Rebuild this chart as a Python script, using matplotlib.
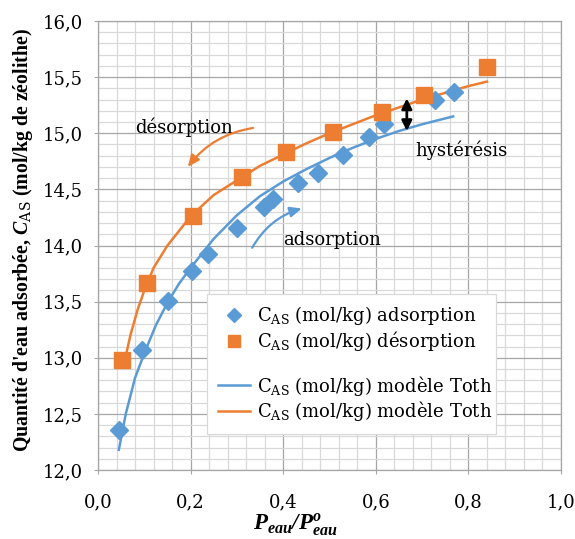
import matplotlib
matplotlib.use("Agg")
import matplotlib.pyplot as plt
from matplotlib.lines import Line2D
from matplotlib.ticker import MultipleLocator, FixedLocator

# ---------------- data ----------------
ads_x = [0.045, 0.095, 0.151, 0.203, 0.238, 0.300, 0.359, 0.378, 0.432, 0.475, 0.529, 0.585, 0.618, 0.728, 0.769]
ads_y = [12.36, 13.07, 13.51, 13.77, 13.92, 14.16, 14.34, 14.41, 14.56, 14.65, 14.81, 14.97, 15.08, 15.30, 15.37]

des_x = [0.052, 0.106, 0.205, 0.311, 0.406, 0.508, 0.613, 0.704, 0.840]
des_y = [12.98, 13.67, 14.26, 14.61, 14.83, 15.01, 15.19, 15.34, 15.59]

toth_ads_x = [0.045, 0.06, 0.08, 0.10, 0.125, 0.15, 0.175, 0.20, 0.25, 0.30, 0.35, 0.40, 0.45,
              0.50, 0.55, 0.60, 0.65, 0.70, 0.767]
toth_ads_y = [12.18, 12.50, 12.82, 13.04, 13.29, 13.49, 13.66, 13.80, 14.06, 14.27, 14.44, 14.57,
              14.68, 14.78, 14.87, 14.95, 15.02, 15.08, 15.15]

toth_des_x = [0.058, 0.07, 0.085, 0.10, 0.12, 0.15, 0.177, 0.20, 0.25, 0.30, 0.35, 0.40, 0.45,
              0.50, 0.55, 0.60, 0.65, 0.70, 0.75, 0.80, 0.84]
toth_des_y = [12.98, 13.20, 13.42, 13.60, 13.80, 14.00, 14.14, 14.26, 14.45, 14.58, 14.71, 14.81,
              14.91, 15.00, 15.08, 15.16, 15.23, 15.30, 15.36, 15.42, 15.46]

xtick_vals = [0.0, 0.2, 0.4, 0.6, 0.8, 1.0]
xtick_labels = ['0,0', '0,2', '0,4', '0,6', '0,8', '1,0']
ytick_vals = [12.0, 12.5, 13.0, 13.5, 14.0, 14.5, 15.0, 15.5, 16.0]
ytick_labels = ['12,0', '12,5', '13,0', '13,5', '14,0', '14,5', '15,0', '15,5', '16,0']

legend_labels = [r'C$_{\mathrm{AS}}$ (mol/kg) adsorption',
                 r'C$_{\mathrm{AS}}$ (mol/kg) désorption',
                 ' ',
                 r'C$_{\mathrm{AS}}$ (mol/kg) modèle Toth',
                 r'C$_{\mathrm{AS}}$ (mol/kg) modèle Toth']

# ---------------- style ----------------
BLUE = '#5B9BD5'
ORANGE = '#ED7D31'
plt.rcParams['font.family'] = ['DejaVu Serif']
plt.rcParams['mathtext.fontset'] = 'custom'
plt.rcParams['mathtext.rm'] = 'DejaVu Serif'
plt.rcParams['mathtext.it'] = 'DejaVu Serif:italic'
plt.rcParams['mathtext.bf'] = 'Liberation Serif:bold'
plt.rcParams['mathtext.bfit'] = 'Liberation Serif:bold:italic'

fig = plt.figure(figsize=(5.75, 5.39), dpi=100)
ax = fig.add_axes([98/575, 1-470/539, (561-98)/575, (470-21)/539])

ax.set_xlim(0, 1.0)
ax.set_ylim(12.0, 16.0)

ax.xaxis.set_major_locator(FixedLocator(xtick_vals))
ax.yaxis.set_major_locator(FixedLocator(ytick_vals))
ax.xaxis.set_minor_locator(MultipleLocator(0.04))
ax.yaxis.set_minor_locator(MultipleLocator(0.1))
ax.set_xticklabels(xtick_labels)
ax.set_yticklabels(ytick_labels)

ax.grid(which='minor', color='#D9D9D9', linewidth=0.9)
ax.grid(which='major', color='#A6A6A6', linewidth=0.9)
ax.set_axisbelow(True)
for s in ax.spines.values():
    s.set_color('#A6A6A6')
    s.set_linewidth(0.9)

ax.tick_params(axis='both', which='major', labelsize=13, color='#A6A6A6', length=3)
ax.tick_params(axis='x', which='major', pad=14)
ax.tick_params(axis='y', which='major', pad=8)
ax.tick_params(which='minor', length=0)

# model lines
l_ads, = ax.plot(toth_ads_x, toth_ads_y, color=BLUE, lw=1.8, zorder=3)
l_des, = ax.plot(toth_des_x, toth_des_y, color=ORANGE, lw=1.8, zorder=3)
# points
p_ads, = ax.plot(ads_x, ads_y, linestyle='none', marker='D', markersize=9.5,
                 color=BLUE, markeredgecolor=BLUE, zorder=4)
p_des, = ax.plot(des_x, des_y, linestyle='none', marker='s', markersize=12,
                 color=ORANGE, markeredgecolor=ORANGE, zorder=4)

blank = Line2D([], [], linestyle='none', marker=None)
leg = ax.legend([p_ads, p_des, blank, l_ads, l_des], legend_labels,
                loc='lower left', bbox_to_anchor=(0.235, 0.08, 0.625, 0.3075),
                mode='expand', fontsize=13, frameon=True, fancybox=False,
                edgecolor='#D9D9D9', framealpha=1.0, borderpad=0.6,
                labelspacing=0.08, handlelength=1.8, handletextpad=0.4,
                markerscale=0.75, borderaxespad=0)
leg.get_frame().set_linewidth(0.9)

# annotations
ax.text(0.080, 15.056, 'désorption', fontsize=13, va='center', ha='left')
ax.text(0.400, 14.05, 'adsorption', fontsize=13, va='center', ha='left')
ax.text(0.685, 14.85, 'hystérésis', fontsize=13, va='center', ha='left')

ax.annotate('', xy=(0.194, 14.70), xytext=(0.335, 15.047),
            arrowprops=dict(arrowstyle='-|>,head_length=0.5,head_width=0.22',
                            color=ORANGE, lw=1.6, connectionstyle='arc3,rad=0.2',
                            shrinkA=0, shrinkB=0, mutation_scale=14))
ax.annotate('', xy=(0.44, 14.33), xytext=(0.333, 13.98),
            arrowprops=dict(arrowstyle='-|>,head_length=0.5,head_width=0.22',
                            color=BLUE, lw=1.6, connectionstyle='arc3,rad=-0.2',
                            shrinkA=0, shrinkB=0, mutation_scale=14))
ax.annotate('', xy=(0.667, 15.31), xytext=(0.667, 15.02),
            arrowprops=dict(arrowstyle='<|-|>,head_length=0.5,head_width=0.25',
                            color='black', lw=2.0, shrinkA=0, shrinkB=0,
                            mutation_scale=12))

# axis labels
fig.text(23/575, 1-240/539,
         r"Quantité d'eau adsorbée, $\mathbfit{C}_{\mathrm{AS}}$ (mol/kg de zéolithe)",
         rotation=90, ha='center', va='center', fontsize=14.3,
         family='Liberation Serif', fontweight='bold')
fig.text(295/575, 1/539,
         r'$\mathbfit{P}_{\mathbfit{eau}}\mathbfit{/}\mathbfit{P}^{\mathbfit{o}}_{\mathbfit{eau}}$',
         ha='center', va='bottom', fontsize=16.5)

fig.savefig('out.png', dpi=100, facecolor='white')
